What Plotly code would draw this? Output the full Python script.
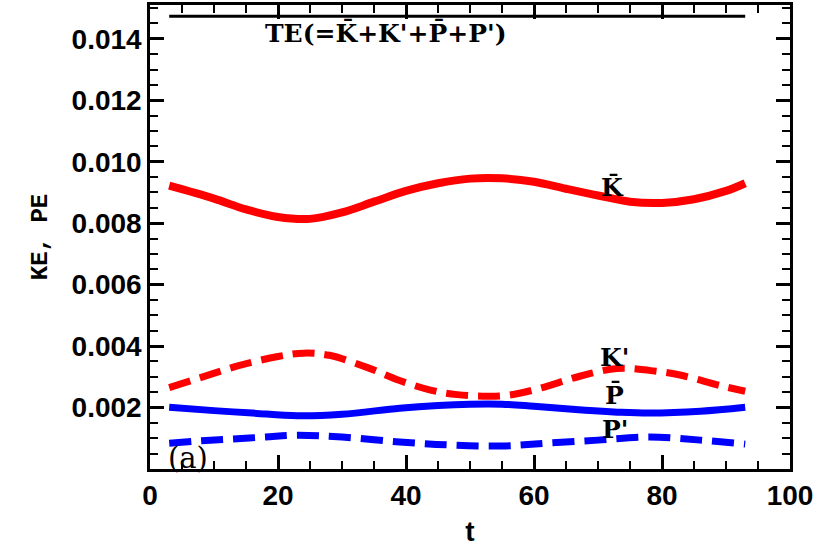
import plotly.graph_objects as go

# Data
t_te = [3, 93]
te = [0.01473, 0.01473]

t_kbar = [3, 10, 15, 20, 25, 30, 35, 40, 45, 50, 55, 60, 65, 70, 75, 80, 85, 90, 93]
kbar = [0.00922, 0.00880, 0.00845, 0.00820, 0.00814, 0.00835, 0.00870, 0.00905, 0.00930, 0.00945, 0.00946, 0.00935, 0.00912, 0.00890, 0.00870, 0.00866, 0.00878, 0.00905, 0.00930]

t_kp = [3, 8, 14, 20, 24, 28, 34, 39, 44, 48, 52, 56, 61, 67, 73, 78, 83, 89, 93]
kp = [0.00265, 0.00298, 0.00337, 0.00366, 0.00377, 0.00370, 0.00330, 0.00288, 0.00256, 0.00242, 0.00237, 0.00240, 0.00263, 0.00301, 0.00327, 0.00321, 0.00305, 0.00272, 0.00253]

t_pbar = [3, 10, 16, 23, 30, 39, 45, 50, 55, 60, 68, 73, 78, 86, 93]
pbar = [0.00201, 0.00190, 0.00182, 0.00173, 0.00178, 0.00198, 0.00207, 0.00211, 0.00211, 0.00204, 0.00191, 0.00185, 0.00182, 0.00188, 0.00201]

t_pp = [3, 8, 13, 18, 23, 30, 39, 47, 55, 62, 70, 78, 86, 93]
pp = [0.00084, 0.00092, 0.00098, 0.00104, 0.00110, 0.00104, 0.00088, 0.00078, 0.00075, 0.00084, 0.00094, 0.00104, 0.00094, 0.00081]

x_ticks = [0, 20, 40, 60, 80, 100]
y_ticks = [0.002, 0.004, 0.006, 0.008, 0.010, 0.012, 0.014]
y_tick_text = ["0.002", "0.004", "0.006", "0.008", "0.010", "0.012", "0.014"]

X_RANGE = [0, 100]
Y_RANGE = [0, 0.0151]

RED = "#ff0000"
BLUE = "#0000ff"

fig = go.Figure()
fig.add_trace(go.Scatter(x=t_te, y=te, mode="lines", line=dict(color="black", width=3), showlegend=False))
fig.add_trace(go.Scatter(x=t_kbar, y=kbar, mode="lines", line=dict(color=RED, width=8, shape="spline"), showlegend=False))
fig.add_trace(go.Scatter(x=t_kp, y=kp, mode="lines", line=dict(color=RED, width=7, shape="spline", dash="22px,10px"), showlegend=False))
fig.add_trace(go.Scatter(x=t_pbar, y=pbar, mode="lines", line=dict(color=BLUE, width=7, shape="spline"), showlegend=False))
fig.add_trace(go.Scatter(x=t_pp, y=pp, mode="lines", line=dict(color=BLUE, width=7, shape="spline", dash="22px,10px"), showlegend=False))
# invisible trace to activate mirrored top/right axes (ticks only)
fig.add_trace(go.Scatter(x=[None], y=[None], xaxis="x2", yaxis="y2", mode="lines", showlegend=False, hoverinfo="skip"))

lab_font = dict(family="DejaVu Serif", size=25, color="black")
anns = [
    ("<b>TE(=K\u0304+K'+P\u0304+P')</b>", 36.8, 0.01420, 25),
    ("<b>K\u0304</b>", 72.3, 0.00915, 25),
    ("<b>K'</b>", 72.6, 0.00362, 25),
    ("<b>P\u0304</b>", 72.6, 0.00240, 25),
    ("<b>P'</b>", 72.6, 0.00128, 25),
    ("(a)", 6.0, 0.00036, 29),
]
for txt, x, y, sz in anns:
    fig.add_annotation(x=x, y=y, text=txt, showarrow=False, font=dict(lab_font, size=sz),
                       xanchor="center", yanchor="middle")

tick_style = dict(ticks="inside", ticklen=14, tickwidth=2.5, tickcolor="black", showgrid=False, zeroline=False)
line_style = dict(showline=True, linecolor="black", linewidth=2.5)
tfont = dict(family="Liberation Sans", size=28, color="black")

fig.update_layout(
    width=824, height=548,
    margin=dict(l=150, r=34, t=5, b=77),
    paper_bgcolor="white", plot_bgcolor="white",
    xaxis=dict(
        range=X_RANGE, tickvals=x_ticks, ticktext=[f"<b>{v}</b>" for v in x_ticks], tickfont=tfont,
        minor=dict(ticks="inside", dtick=5, ticklen=8, tickwidth=2, tickcolor="black"),
        title=dict(text="<b>t</b>", font=dict(family="Liberation Sans", size=28, color="black"), standoff=12),
        **tick_style, **line_style,
    ),
    yaxis=dict(
        range=Y_RANGE, tickvals=y_ticks, ticktext=[f"<b>{v}</b>" for v in y_tick_text], tickfont=tfont,
        minor=dict(ticks="inside", dtick=0.0005, tick0=0, ticklen=8, tickwidth=2, tickcolor="black"),
        title=dict(text="<b>KE, PE</b>", font=dict(family="Liberation Mono", size=24, color="black"), standoff=18),
        **tick_style, **line_style,
    ),
    xaxis2=dict(
        range=X_RANGE, overlaying="x", side="top", tickvals=x_ticks, showticklabels=False,
        minor=dict(ticks="inside", dtick=5, ticklen=8, tickwidth=2, tickcolor="black"),
        **tick_style, **line_style,
    ),
    yaxis2=dict(
        range=Y_RANGE, overlaying="y", side="right", tickvals=y_ticks, showticklabels=False,
        minor=dict(ticks="inside", dtick=0.0005, tick0=0, ticklen=8, tickwidth=2, tickcolor="black"),
        **tick_style, **line_style,
    ),
)

fig.write_html("out.html")
